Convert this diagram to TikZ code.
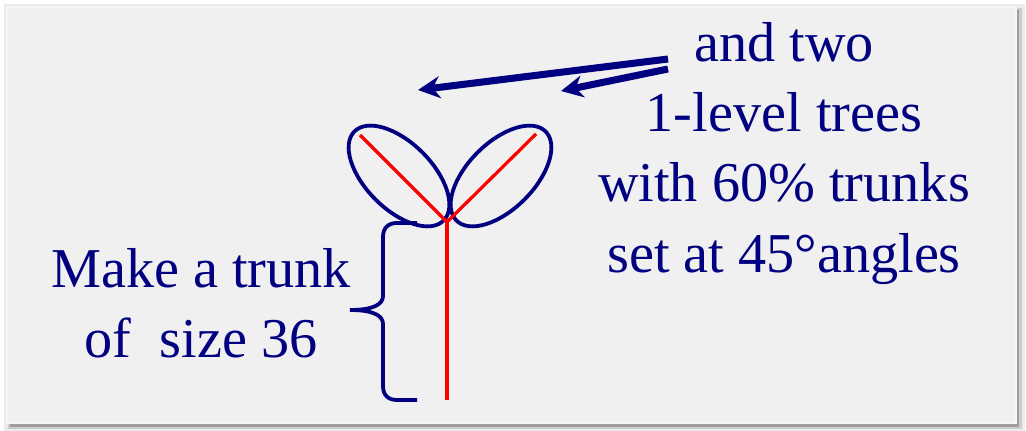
\documentclass[tikz,border=0pt]{standalone}
\usepackage{fontspec}
\setmainfont{Liberation Serif}
\usepackage{tikz}
\usetikzlibrary{arrows.meta,positioning,shapes.geometric}
\definecolor{SlideNavy}{HTML}{000080}
\definecolor{SlideRed}{HTML}{FF0000}
\definecolor{SlideGray}{HTML}{F0F0F0}
\definecolor{SlideEdge}{HTML}{F5F7F7}

\begin{document}
\begin{tikzpicture}[
    x=0.025cm, y=-0.025cm,
    words/.style={text=SlideNavy, align=center, inner sep=0pt, font=\fontsize{40}{50}\selectfont},
    leaf/.style={ellipse, draw=SlideNavy, line width=2.7pt, minimum width=3.15cm, minimum height=1.66cm, inner sep=0pt},
    branch/.style={draw=SlideRed, line width=2.3pt, line join=round},
    bracket/.style={draw=SlideNavy, line width=2.7pt},
    arrow/.style={-{Stealth[length=5.5mm, width=5.5mm]}, line width=5pt, color=SlideNavy}
]
\useasboundingbox (0,0) rectangle (1026,431);

% Slide panel with drop shadow
\fill[white] (0,0) rectangle (1026,431);
\fill[black!8] (4,4) rectangle (1025,431);
\fill[black!20] (8,8) rectangle (1022,429);
\fill[black!38] (10,10) rectangle (1019,427);
\filldraw[fill=SlideGray, draw=SlideEdge, line width=2pt] (7,7) rectangle (1016,423);

% Tree: trunk, two leaves, two branches
\coordinate (root) at (447,400);
\coordinate (fork) at (447,222);
\coordinate (tipL) at (360,135);
\coordinate (tipR) at (536,134);
\node[leaf, rotate=-45] (leafL) at (399,176) {};
\node[leaf, rotate=45] (leafR) at (501,176) {};
\draw[branch] (root) -- (fork);
\draw[branch] (tipL) -- (fork) -- (tipR);

% Brace beside the trunk
\draw[bracket] (417,223) -- (397,223) .. controls (388,223) and (383,228) .. (383,237)
  -- (383,296) .. controls (383,305) and (372,310) .. (350,310)
  .. controls (372,310) and (383,315) .. (383,324)
  -- (383,386) .. controls (383,395) and (388,400) .. (397,400) -- (417,400);

% Texts
\node[words, anchor=north] (trees) at (784,22) {and two\\1-level trees\\with 60\% trunks\\set at 45°angles};
\node[words, anchor=north] (trunk) at (201,248) {Make a trunk\\of~ size 36};

% Arrows
\coordinate (srcA) at (668,59);
\coordinate (srcB) at (668,69);
\coordinate (tgtA) at (418,90);
\coordinate (tgtB) at (561,91);
\draw[arrow] (srcA) -- (tgtA);
\draw[arrow] (srcB) -- (tgtB);

\end{tikzpicture}
\end{document}
